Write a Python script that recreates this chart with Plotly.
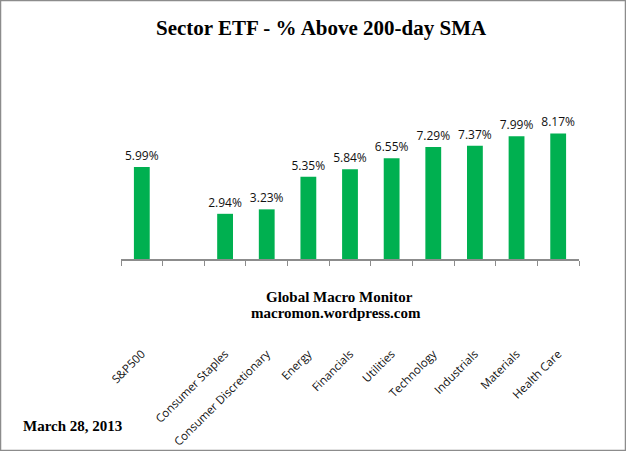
import plotly.graph_objects as go

categories = ["S&P500", " ", "Consumer Staples", "Consumer Discretionary", "Energy",
              "Financials", "Utilities", "Technology", "Industrials", "Materials", "Health Care"]
values = [5.99, None, 2.94, 3.23, 5.35, 5.84, 6.55, 7.29, 7.37, 7.99, 8.17]
labels = [f"{v:.2f}%" if v is not None else "" for v in values]

title_text = "Sector ETF - % Above 200-day SMA"
sub1 = "Global Macro Monitor"
sub2 = "macromon.wordpress.com"
date_text = "March 28, 2013"

W, H = 626, 451
L, R, T, B = 121, 47, 110, 192
pw, ph = W - L - R, H - T - B
px_per_unit = 15.37
ymax = ph / px_per_unit

def px(x):
    return (x - L) / pw

def py(y):
    return (H - B - y) / ph

fig = go.Figure(go.Bar(
    x=categories, y=values, text=labels, textposition="outside",
    textfont=dict(family="Open Sans", size=12, color="#111111"),
    constraintext="none",
    marker=dict(color="#00B050", line=dict(width=0)),
    cliponaxis=False,
))

serif = "Liberation Serif"
fig.update_layout(
    width=W, height=H, margin=dict(l=L, r=R, t=T, b=B, autoexpand=False),
    paper_bgcolor="white", plot_bgcolor="white",
    bargap=0.62, showlegend=False,
    xaxis=dict(type="category", tickangle=-45, ticklabelstandoff=82, automargin=False,
               tickfont=dict(family="Open Sans", size=11.5, color="#111111"),
               showline=True, linecolor="#8c8c8c", linewidth=1.5,
               ticks="outside", ticklen=5, tickcolor="#8c8c8c", tickson="boundaries",
               showgrid=False, zeroline=False, fixedrange=True),
    yaxis=dict(range=[0, ymax], visible=False, showgrid=False, zeroline=False, automargin=False),
    annotations=[
        dict(text=f"<b>{title_text}</b>", xref="paper", yref="paper", x=px(321), y=py(28),
             showarrow=False, font=dict(family=serif, size=21, color="black"),
             xanchor="center", yanchor="middle"),
        dict(text=f"<b>{sub1}</b>", xref="paper", yref="paper", x=px(339), y=py(297),
             showarrow=False, font=dict(family=serif, size=15, color="black"),
             xanchor="center", yanchor="middle"),
        dict(text=f"<b>{sub2}</b>", xref="paper", yref="paper", x=px(336), y=py(313),
             showarrow=False, font=dict(family=serif, size=15, color="black"),
             xanchor="center", yanchor="middle"),
        dict(text=f"<b>{date_text}</b>", xref="paper", yref="paper", x=px(21), y=py(426),
             showarrow=False, font=dict(family=serif, size=15, color="black"),
             xanchor="left", yanchor="middle"),
    ],
    shapes=[dict(type="rect", xref="paper", yref="paper",
                 x0=px(0), x1=px(W), y0=py(H), y1=py(0),
                 line=dict(color="#8c8c8c", width=2.5), fillcolor="rgba(0,0,0,0)")],
)

fig.write_html("out.html", config={"displayModeBar": False},
               post_script="document.body.style.margin='0';document.body.style.overflow='hidden';")
